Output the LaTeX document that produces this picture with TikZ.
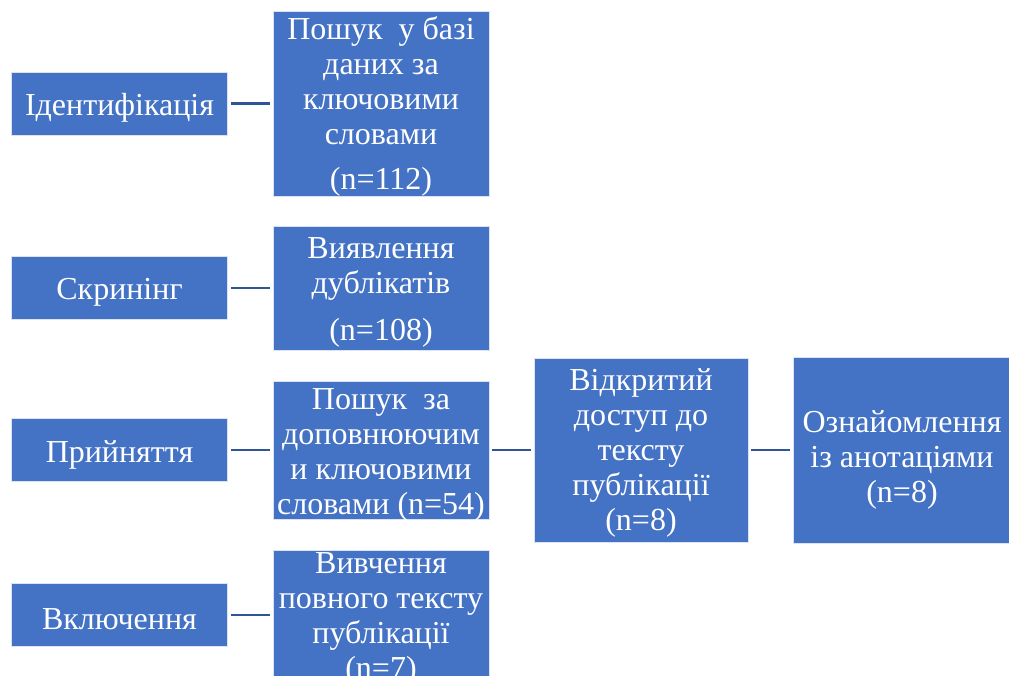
\documentclass[tikz,border=0pt]{standalone}
\usepackage{fontspec}
\setmainfont{Liberation Serif}
\definecolor{boxblue}{HTML}{4472C4}
\definecolor{lineblue}{HTML}{2F5597}
\tikzset{
  box/.style={rectangle, fill=boxblue, draw=white!80!boxblue, line width=0.8pt, inner sep=0pt},
  lbl/.style={inner sep=0pt, text=white, align=center, font=\fontsize{32}{35}\selectfont},
  conn/.style={draw=lineblue, line width=2.5pt, shorten <=3pt, shorten >=3pt}
}
\begin{document}
\begin{tikzpicture}[x=1pt,y=-1pt]
\useasboundingbox (0,0) rectangle (1009,676);
\clip (0,0) rectangle (1009,676);
% left column
\node[box, minimum width=216pt, minimum height=63pt] (l1) at (119.5,103.5) {};
\node[box, minimum width=216pt, minimum height=63pt] (l2) at (119.5,288) {};
\node[box, minimum width=216pt, minimum height=63pt] (l3) at (119.5,450) {};
\node[box, minimum width=216pt, minimum height=63pt] (l4) at (119.5,615) {};
\node[lbl] (tl1) at ([yshift=-4pt]l1.center) {Ідентифікація};
\node[lbl] (tl2) at ([yshift=-4pt]l2.center) {Скринінг};
\node[lbl] (tl3) at ([yshift=-5pt]l3.center) {Прийняття};
\node[lbl] (tl4) at ([yshift=-4pt]l4.center) {Включення};
% second column
\node[box, minimum width=216pt, minimum height=185pt] (b1) at (381,103.5) {};
\node[box, minimum width=216pt, minimum height=124pt] (b2) at (381,288) {};
\node[box, minimum width=216pt, minimum height=138pt] (b3) at (381,450) {};
\node[box, minimum width=216pt, minimum height=140pt] (b4) at (381,620) {};
\node[lbl] (t1) at ([yshift=-3pt]b1.center) {Пошук\ \ у базі\\ даних за\\ ключовими\\ словами\\[10pt] (n=112)};
\node[lbl] (t2) at ([yshift=-4pt]b2.center) {Виявлення\\ дублікатів\\[12pt] (n=108)};
\node[lbl] (t3) at ([yshift=-5pt]b3.center) {Пошук\ \ за\\ доповнюючим\\ и ключовими\\ словами (n=54)};
\node[lbl] (t4) at (381,619) {Вивчення\\ повного тексту\\ публікації\\ (n=7)};
% third and fourth
\node[box, minimum width=214pt, minimum height=184pt] (b5) at (641,450) {};
\node[box, minimum width=218pt, minimum height=186pt] (b6) at (902,450) {};
\node[lbl] (t5) at ([yshift=-3pt]b5.center) {Відкритий\\ доступ до\\ тексту\\ публікації\\ (n=8)};
\node[lbl] (t6) at ([yshift=-10pt]b6.center) {Ознайомлення\\ із анотаціями\\ (n=8)};
% connectors
\draw[conn] (l1.east) -- (l1.east -| b1.west);
\draw[conn] (l2.east) -- (l2.east -| b2.west);
\draw[conn] (l3.east) -- (l3.east -| b3.west);
\draw[conn] (l4.east) -- (l4.east -| b4.west);
\draw[conn] (b3.east) -- (b3.east -| b5.west);
\draw[conn] (b5.east) -- (b5.east -| b6.west);
\end{tikzpicture}
\end{document}
